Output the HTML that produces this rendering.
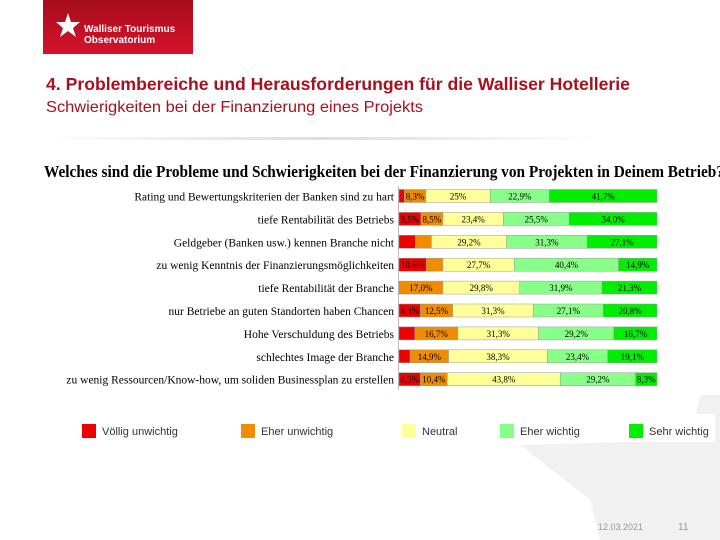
<!DOCTYPE html>
<html><head><meta charset="utf-8"><style>
html,body{margin:0;padding:0;background:#fff;width:720px;height:540px;overflow:hidden}
svg{display:block}
</style></head><body>
<svg id="chart" width="720" height="540" xmlns="http://www.w3.org/2000/svg">
<polygon points="700,395 720,395 720,540 600,540 590,500 520,445 690,440" fill="#f1f1f1"/>
<defs><linearGradient id="hg" x1="0" y1="0" x2="0" y2="1"><stop offset="0" stop-color="#a50d1d"/><stop offset="1" stop-color="#d6122a"/></linearGradient>
<linearGradient id="sep" x1="0" x2="1"><stop offset="0" stop-color="#fff"/><stop offset="0.5" stop-color="#ddd"/><stop offset="1" stop-color="#fff"/></linearGradient></defs>
<g>
<rect x="43" y="0" width="150" height="54" fill="url(#hg)"/>
<polygon points="68,13 71,22 80,22 73,28 76,37 68,31 60,37 63,28 56,22 65,22" fill="#fff"/>
<text x="84" y="32" font-family="Liberation Sans, sans-serif" font-size="10" font-weight="bold" fill="#fff">Walliser Tourismus</text>
<text x="84" y="43" font-family="Liberation Sans, sans-serif" font-size="10" font-weight="bold" fill="#fff">Observatorium</text>
</g>
<text x="46" y="90" font-family="Liberation Sans, sans-serif" font-size="17.5" font-weight="bold" fill="#a8101e" textLength="584" lengthAdjust="spacingAndGlyphs">4. Problembereiche und Herausforderungen für die Walliser Hotellerie</text>
<text x="46" y="112" font-family="Liberation Sans, sans-serif" font-size="16" fill="#a8101e" textLength="377" lengthAdjust="spacingAndGlyphs">Schwierigkeiten bei der Finanzierung eines Projekts</text>
<rect x="40" y="137" width="560" height="3" fill="url(#sep)"/>
<text x="44" y="177" font-family="Liberation Serif, serif" font-size="16.5" font-weight="bold" fill="#000" textLength="680" lengthAdjust="spacingAndGlyphs">Welches sind die Probleme und Schwierigkeiten bei der Finanzierung von Projekten in Deinem Betrieb?</text>
<line x1="398.5" y1="186" x2="398.5" y2="390" stroke="#bbb"/>
<g id="bars"></g>
<rect x="70" y="414" width="645" height="28" fill="#fff"/>
<g id="legend"></g>
<text x="598" y="530" font-family="Liberation Sans, sans-serif" font-size="9" fill="#999">12.03.2021</text>
<text x="678" y="530" font-family="Liberation Sans, sans-serif" font-size="10" fill="#999">11</text>
</svg>
<script>
const categories=["Rating und Bewertungskriterien der Banken sind zu hart","tiefe Rentabilität des Betriebs","Geldgeber (Banken usw.) kennen Branche nicht","zu wenig Kenntnis der Finanzierungsmöglichkeiten","tiefe Rentabilität der Branche","nur Betriebe an guten Standorten haben Chancen","Hohe Verschuldung des Betriebs","schlechtes Image der Branche","zu wenig Ressourcen/Know-how, um soliden Businessplan zu erstellen"];
const seriesNames=["Völlig unwichtig","Eher unwichtig","Neutral","Eher wichtig","Sehr wichtig"];
const voellig=[2.1,8.5,6.3,10.6,0,8.3,6.1,4.3,8.3];
const eherUn=[8.3,8.5,6.3,6.4,17.0,12.5,16.7,14.9,10.4];
const neutral=[25.0,23.4,29.2,27.7,29.8,31.3,31.3,38.3,43.8];
const eherW=[22.9,25.5,31.3,40.4,31.9,27.1,29.2,23.4,29.2];
const sehr=[41.7,34.0,27.1,14.9,21.3,20.8,16.7,19.1,8.3];
const labels=[["","8,3%","25%","22,9%","41,7%"],["8,5%","8,5%","23,4%","25,5%","34,0%"],["","","29,2%","31,3%","27,1%"],["10,6%","","27,7%","40,4%","14,9%"],["","17,0%","29,8%","31,9%","21,3%"],["8,3%","12,5%","31,3%","27,1%","20,8%"],["","16,7%","31,3%","29,2%","16,7%"],["","14,9%","38,3%","23,4%","19,1%"],["8,3%","10,4%","43,8%","29,2%","8,3%"]];
const colors=["#ee0000","#f08c00","#ffff99","#88ff88","#00ee00"];
const ns="http://www.w3.org/2000/svg";
const x0=399,x1=657;
const xs=v=>x0+(x1-x0)*v/100;
const ys=i=>196+i*22.9;
const series=[voellig,eherUn,neutral,eherW,sehr];
const g=document.getElementById('bars');
categories.forEach((c,i)=>{
  const t=document.createElementNS(ns,'text');
  
  
  t.setAttribute('x',394);t.setAttribute('y',ys(i)+4.5);t.setAttribute('text-anchor','end');
  t.setAttribute('font-family','Liberation Serif, serif');t.setAttribute('font-size','11.5');
  t.textContent=c;g.appendChild(t);
  let acc=0;
  const tot=series.reduce((s,a)=>s+a[i],0);
  series.forEach((s,k)=>{
    const v=s[i]*100/tot;
    const r=document.createElementNS(ns,'rect');
    
    
    r.setAttribute('x',xs(acc));r.setAttribute('y',ys(i)-6.5);
    r.setAttribute('width',Math.max(0,xs(acc+v)-xs(acc)));r.setAttribute('height',13);
    r.setAttribute('fill',colors[k]);r.setAttribute('stroke','#999');r.setAttribute('stroke-width','0.5');
    g.appendChild(r);
    if(labels[i][k]){
      const l=document.createElementNS(ns,'text');
      
      
      l.setAttribute('x',(xs(acc)+xs(acc+v))/2);l.setAttribute('y',ys(i)+3.5);
      l.setAttribute('text-anchor','middle');l.setAttribute('font-family','Liberation Serif, serif');
      l.setAttribute('font-size','9');l.textContent=labels[i][k];g.appendChild(l);
    }
    acc+=v;
  });
});
const lg=document.getElementById('legend');
const lx=[82,241,402,500,629];
seriesNames.forEach((n,k)=>{
  const r=document.createElementNS(ns,'rect');
  
  
  r.setAttribute('x',lx[k]);r.setAttribute('y',424);r.setAttribute('width',14);r.setAttribute('height',14);
  r.setAttribute('fill',colors[k]);lg.appendChild(r);
  const t=document.createElementNS(ns,'text');
  
  
  t.setAttribute('x',lx[k]+20);t.setAttribute('y',435);
  t.setAttribute('font-family','Liberation Sans, sans-serif');t.setAttribute('font-size','11');t.setAttribute('fill','#333');
  t.textContent=n;lg.appendChild(t);
});
</script>
</body></html>
